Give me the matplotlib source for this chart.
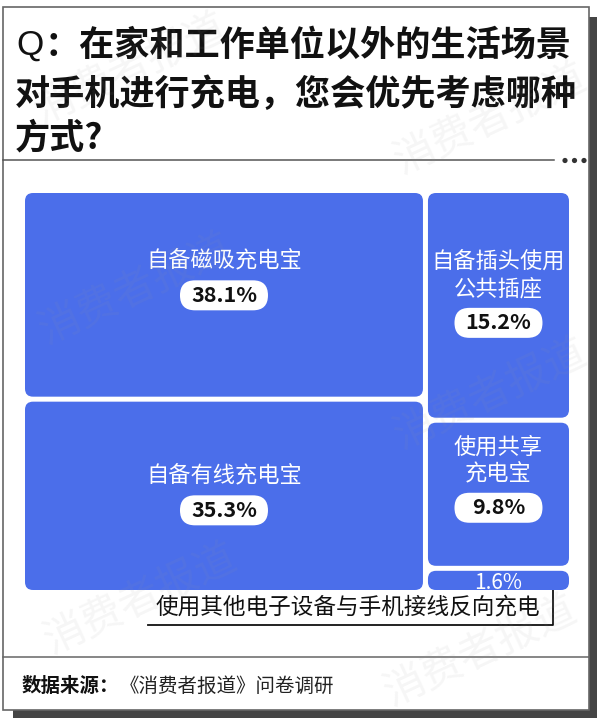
import matplotlib
matplotlib.use('Agg')
import matplotlib.pyplot as plt
from matplotlib.patches import FancyBboxPatch, Rectangle, Circle
from matplotlib.lines import Line2D

plt.rcParams['font.family'] = ['Noto Sans CJK SC', 'DejaVu Sans']

# ---------------- data ----------------
categories = ['自备磁吸充电宝', '自备有线充电宝', '自备插头使用\n公共插座', '使用共享\n充电宝',
              '使用其他电子设备与手机接线反向充电']
values = [38.1, 35.3, 15.2, 9.8, 1.6]
value_labels = ['38.1%', '35.3%', '15.2%', '9.8%', '1.6%']
columns = [0, 0, 1, 1, 1]

title_q = 'Q'
title_lines = ['：在家和工作单位以外的生活场景', '对手机进行充电，您会优先考虑哪种', '方式?']
source_label = '数据来源：'
source_text = '《消费者报道》问卷调研'
watermark = '消费者报道'

# ---------------- style ----------------
W, H = 600, 722
BLUE = '#4B6EEA'
label_shift_px = [-16.5, -2.5, -13, -17]

fig = plt.figure(figsize=(6, 7.22), dpi=100)
fig.patch.set_facecolor('white')

bg = fig.add_axes([0, 0, 1, 1])
bg.set_xlim(0, W)
bg.set_ylim(H, 0)
bg.axis('off')

# frame with shadow
bg.add_patch(Rectangle((589, 17), 8, 701, fc='#454545', ec='none', zorder=0))
bg.add_patch(Rectangle((13, 710), 584, 8, fc='#454545', ec='none', zorder=0))
bg.add_patch(Rectangle((3, 7), 586, 703, fc='white', ec='#666666', lw=1.2, zorder=1))

# title
renderer = fig.canvas.get_renderer()
title_y = [45, 94, 138]
tq = bg.text(16, title_y[0], title_q, fontsize=25.3, family=['Liberation Sans', 'DejaVu Sans'],
             va='center', ha='left', color='#111111', zorder=3)
bb = tq.get_window_extent(renderer)
q_end = bb.x1 + 1
bg.text(q_end, title_y[0], title_lines[0], fontsize=25.3, fontweight='bold', va='center',
        ha='left', color='#111111', zorder=3)
for ln, y in zip(title_lines[1:], title_y[1:]):
    bg.text(15, y, ln, fontsize=25.3, fontweight='bold', va='center', ha='left',
            color='#111111', zorder=3)

# separators
bg.add_line(Line2D([3, 554], [160, 160], color='#555555', lw=1.1, zorder=3))
for dx in [565, 574.5, 584]:
    bg.add_patch(Circle((dx, 160.5), 2.6, fc='#333333', ec='none', zorder=3))
bg.add_line(Line2D([3, 589], [657, 657], color='#666666', lw=1.1, zorder=3))

# footer
ts = bg.text(22, 686, source_label, fontsize=14, fontweight='bold', va='center', ha='left',
             color='#111111', zorder=3)
bb = ts.get_window_extent(renderer)
bg.text(bb.x1, 686, source_text, fontsize=14, va='center', ha='left', color='#222222', zorder=3)

# ---------------- treemap ----------------
tm_left, tm_top, tm_right, tm_bottom = 22.5, 190.5, 571.5, 592.5
ax = fig.add_axes([tm_left / W, 1 - tm_bottom / H, (tm_right - tm_left) / W, (tm_bottom - tm_top) / H])
ax.patch.set_alpha(0)
total = sum(values)
ax_h = total * (tm_bottom - tm_top) / (tm_right - tm_left)
ax.set_xlim(0, total)
ax.set_ylim(ax_h, 0)
ax.axis('off')
u = total / (tm_right - tm_left)  # data units per pixel

rects = [None] * len(values)
x0 = 0.0
for c in sorted(set(columns)):
    idx = [i for i, k in enumerate(columns) if k == c]
    colsum = sum(values[i] for i in idx)
    y0 = 0.0
    for i in idx:
        h = values[i] / colsum * ax_h
        rects[i] = (x0, y0, colsum, h)
        y0 += h
    x0 += colsum

g = 2.5 * u
for i, (x, y, w, h) in enumerate(rects):
    ax.add_patch(FancyBboxPatch((x + g, y + g), w - 2 * g, h - 2 * g,
                                boxstyle=f'round,pad=0,rounding_size={8 * u}',
                                fc=BLUE, ec='none', zorder=2))

line_sp = 27 * u
pill_gap = 34 * u
pill_w, pill_h = 88 * u, 30 * u
for i in range(4):
    x, y, w, h = rects[i]
    cx = x + w / 2
    cy = y + h / 2 + label_shift_px[i] * u
    lines = categories[i].split('\n')
    n = len(lines)
    span = (n - 1) * line_sp + pill_gap
    first = cy - span / 2
    for k, ln in enumerate(lines):
        ax.text(cx, first + k * line_sp, ln, fontsize=16, color='white', ha='center',
                va='center', zorder=4)
    py = first + (n - 1) * line_sp + pill_gap
    ax.add_patch(FancyBboxPatch((cx - pill_w / 2, py - pill_h / 2), pill_w, pill_h,
                                boxstyle=f'round,pad=0,rounding_size={15 * u}',
                                fc='white', ec='none', zorder=4))
    ax.text(cx, py, value_labels[i], fontsize=15.5, fontweight='bold', color='#111111',
            ha='center', va='center', zorder=5)

# smallest tile: value inside, label outside with leader
x, y, w, h = rects[4]
ax.text(x + w / 2, y + h / 2 + 2.5 * u, value_labels[4], fontsize=15, fontweight='medium',
        color='white', ha='center', va='center', zorder=5)
dot_x = tm_left + (x + w) / u - 18.5
dot_y = tm_top + (y + h / 2) / u
bg.add_patch(Circle((dot_x, dot_y), 3, fc='#111111', ec='none', zorder=6))
bg.add_line(Line2D([dot_x, dot_x, 148], [dot_y, 625, 625], color='#111111', lw=1.3, zorder=6))
bg.text(347.5, 607, categories[4], fontsize=16.3, color='#111111', ha='center', va='center',
        zorder=6)

# ---------------- watermarks ----------------
ov = fig.add_axes([0, 0, 1, 1])
ov.set_xlim(0, W)
ov.set_ylim(H, 0)
ov.axis('off')
ov.patch.set_alpha(0)
for (wx, wy) in [(130, 70), (490, 120), (135, 290), (490, 395), (140, 600), (480, 652)]:
    ov.text(wx, wy, watermark, fontsize=30, color='#999999', alpha=0.09,
            rotation=25, ha='center', va='center', zorder=10)

fig.savefig('out.png', dpi=100, facecolor='white')
